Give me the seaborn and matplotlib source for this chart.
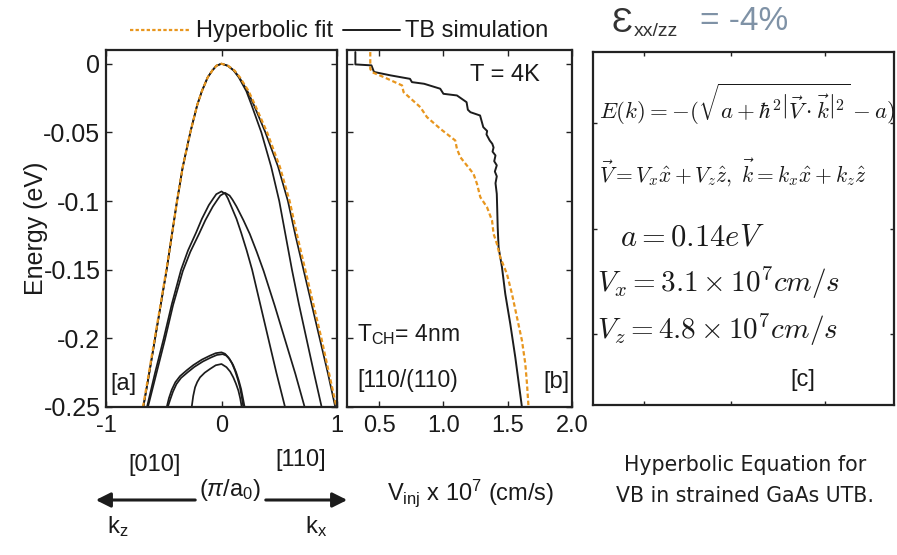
import numpy as np
import pandas as pd
import matplotlib
matplotlib.use("Agg")
import matplotlib.pyplot as plt
from matplotlib.lines import Line2D
import seaborn as sns

# ---------------- data ----------------
# panel a : band structure, k in (pi/a0), E in eV
E_b1 = [0, -0.0015, -0.005, -0.01, -0.02, -0.03, -0.05, -0.075, -0.1, -0.125, -0.15, -0.175, -0.2, -0.225, -0.25]
k_b1_left = [0, -0.045, -0.08, -0.12, -0.17, -0.21, -0.27, -0.335, -0.385, -0.43, -0.475, -0.525, -0.575, -0.625, -0.677]
k_b1_right = [0, 0.055, 0.11, 0.155, 0.225, 0.28, 0.38, 0.49, 0.575, 0.64, 0.71, 0.78, 0.85, 0.92, 0.985]
k_b1b_right = [0, 0.055, 0.105, 0.15, 0.215, 0.26, 0.345, 0.43, 0.50, 0.555, 0.61, 0.67, 0.735, 0.80, 0.867]
k_fit_left = [0, -0.045, -0.08, -0.12, -0.17, -0.21, -0.27, -0.335, -0.385, -0.43, -0.477, -0.527, -0.578, -0.628, -0.68]
k_fit_right = [0, 0.057, 0.113, 0.16, 0.235, 0.29, 0.395, 0.505, 0.59, 0.655, 0.725, 0.795, 0.865, 0.93, 0.995]

E_b2 = [-0.093, -0.095, -0.098, -0.103, -0.113, -0.123, -0.136, -0.15, -0.175, -0.2, -0.225, -0.25]
k_b2_left = [0, -0.045, -0.07, -0.11, -0.17, -0.22, -0.29, -0.35, -0.43, -0.50, -0.575, -0.645]
k_b2_right = [0, 0.035, 0.055, 0.08, 0.13, 0.17, 0.218, 0.265, 0.335, 0.405, 0.475, 0.55]
E_b2b = [-0.094, -0.096, -0.099, -0.104, -0.114, -0.124, -0.137, -0.151, -0.176, -0.201, -0.226, -0.251]
k_b2b_left = [0.03, -0.01, -0.035, -0.075, -0.14, -0.195, -0.27, -0.335, -0.42, -0.49, -0.565, -0.64]
k_b2b_right = [0.03, 0.07, 0.095, 0.13, 0.19, 0.245, 0.305, 0.365, 0.46, 0.55, 0.64, 0.723]

k_b3_left = [0, -0.05, -0.1, -0.17, -0.244, -0.3, -0.359, -0.40, -0.431, -0.455, -0.474]
E_b3_left = [-0.2102, -0.2108, -0.2126, -0.2155, -0.2195, -0.2232, -0.2275, -0.232, -0.2375, -0.2435, -0.25]
k_b3_right = [0, 0.03, 0.059, 0.09, 0.117, 0.14, 0.16, 0.176, 0.189]
E_b3_right = [-0.2102, -0.2112, -0.2138, -0.218, -0.2235, -0.2295, -0.2357, -0.243, -0.25]
k_b3b_left = [0.01, -0.04, -0.09, -0.16, -0.235, -0.29, -0.35, -0.39, -0.42, -0.445, -0.465]
E_b3b_left = [-0.2115, -0.2121, -0.2139, -0.2168, -0.2208, -0.2245, -0.2288, -0.2333, -0.2388, -0.2448, -0.25]
k_b3b_right = [0.01, 0.04, 0.07, 0.10, 0.127, 0.15, 0.17, 0.187, 0.20]
E_b3b_right = [-0.2115, -0.2125, -0.2151, -0.2193, -0.2248, -0.2308, -0.237, -0.2443, -0.25]

k_b4_left = [0, -0.05, -0.0996, -0.145, -0.186, -0.21, -0.229, -0.245, -0.258]
E_b4_left = [-0.2187, -0.2196, -0.2223, -0.225, -0.2284, -0.2318, -0.2357, -0.242, -0.25]
k_b4_right = [0, 0.043, 0.075, 0.102, 0.125, 0.146, 0.162, 0.175]
E_b4_right = [-0.2187, -0.221, -0.2242, -0.2284, -0.233, -0.238, -0.2437, -0.25]

# panel b : injection velocity (x 1e7 cm/s) versus energy (eV)
vinj_tb = [0.315, 0.315, 0.44, 0.46, 0.59, 0.74, 0.755, 0.85, 0.975, 1.00, 1.105, 1.18, 1.19, 1.21,
           1.285, 1.31, 1.34, 1.335, 1.36, 1.38, 1.39, 1.382, 1.405, 1.395, 1.415, 1.40, 1.415, 1.405,
           1.415, 1.418, 1.422, 1.429, 1.455, 1.481, 1.520, 1.559, 1.611]
E_tb = [0.0085, -0.0005, -0.0012, -0.0060, -0.0085, -0.0110, -0.0134, -0.0146, -0.0182, -0.0219, -0.0231, -0.0280, -0.0335, -0.0353,
        -0.0377, -0.0462, -0.0490, -0.0515, -0.0559, -0.0583, -0.0610, -0.0640, -0.0668, -0.0710, -0.0740, -0.0785, -0.0820, -0.0870,
        -0.0948, -0.1045, -0.1190, -0.1337, -0.1480, -0.1676, -0.1895, -0.2138, -0.2503]
vinj_fit = [0.431, 0.431, 0.444, 0.535, 0.678, 0.690, 0.820, 0.872, 0.976, 1.092, 1.105, 1.131, 1.234, 1.261,
            1.287, 1.339, 1.378, 1.390, 1.416, 1.442, 1.494, 1.533, 1.572, 1.611, 1.637, 1.650, 1.662]
E_fit = [0.0085, -0.0037, -0.0061, -0.0097, -0.0158, -0.0207, -0.0316, -0.0389, -0.0474, -0.0559, -0.0620, -0.0680, -0.0802, -0.0875,
         -0.0972, -0.1045, -0.1142, -0.1239, -0.1312, -0.1410, -0.1531, -0.1676, -0.1847, -0.2017, -0.2187, -0.2332, -0.2503]

yticks = [0, -0.05, -0.1, -0.15, -0.2, -0.25]
ytick_labels = ["0", "-0.05", "-0.1", "-0.15", "-0.2", "-0.25"]
xticks_a = [-1, 0, 1]
xtick_labels_a = ["-1", "0", "1"]
xticks_b = [0.5, 1.0, 1.5, 2.0]
xtick_labels_b = ["0.5", "1.0", "1.5", "2.0"]

# ---------------- style ----------------
sns.set_theme(style="white")
plt.rcParams["font.family"] = ["Liberation Sans", "DejaVu Sans"]
plt.rcParams["mathtext.fontset"] = "custom"
plt.rcParams["mathtext.rm"] = "Liberation Sans"
plt.rcParams["mathtext.it"] = "Liberation Sans:italic"
plt.rcParams["mathtext.bf"] = "Liberation Sans:bold"
plt.rcParams["mathtext.sf"] = "Liberation Sans"

BLACK = "#1c1c1c"
ORANGE = "#E8961E"
TXT = "#1a1a1a"

W, H = 897, 555
fig = plt.figure(figsize=(W / 100, H / 100), dpi=100)
fig.patch.set_facecolor("white")


def fx(px):
    return px / W


def fy(py):
    return 1 - py / H


def box(l, r, t, b):
    return [fx(l), fy(b), fx(r) - fx(l), fy(t) - fy(b)]


ax_a = fig.add_axes(box(106, 337, 50, 407))
ax_b = fig.add_axes(box(347, 572, 50, 407))
ax_c = fig.add_axes(box(593, 894, 52, 405))


def curve(kl, El, kr, Er):
    return list(kl[::-1]) + list(kr[1:]), list(El[::-1]) + list(Er[1:])


def draw(ax, x, y, **kw):
    df = pd.DataFrame({"x": x, "y": y})
    sns.lineplot(data=df, x="x", y="y", sort=False, estimator=None, ax=ax, **kw)


lw = 1.25
# band 1 (two sub-bands)
x, y = curve(k_b1_left, E_b1, k_b1_right, E_b1)
draw(ax_a, x, y, color=BLACK, linewidth=lw)
x, y = curve(k_b1_left, E_b1, k_b1b_right, E_b1)
draw(ax_a, x, y, color=BLACK, linewidth=lw)
# band 2
x, y = curve(k_b2_left, E_b2, k_b2_right, E_b2)
draw(ax_a, x, y, color=BLACK, linewidth=lw)
x, y = curve(k_b2b_left, E_b2b, k_b2b_right, E_b2b)
draw(ax_a, x, y, color=BLACK, linewidth=lw)
# band 3 / 4
x, y = curve(k_b3_left, E_b3_left, k_b3_right, E_b3_right)
draw(ax_a, x, y, color=BLACK, linewidth=lw)
x, y = curve(k_b3b_left, E_b3b_left, k_b3b_right, E_b3b_right)
draw(ax_a, x, y, color=BLACK, linewidth=lw)
x, y = curve(k_b4_left, E_b4_left, k_b4_right, E_b4_right)
draw(ax_a, x, y, color=BLACK, linewidth=lw)
# hyperbolic fit
x, y = curve(k_fit_left, E_b1, k_fit_right, E_b1)
draw(ax_a, x, y, color=ORANGE, linewidth=1.6, linestyle=(0, (2.0, 1.2)))

# panel b
draw(ax_b, vinj_tb, E_tb, color=BLACK, linewidth=1.4)
draw(ax_b, vinj_fit, E_fit, color=ORANGE, linewidth=1.6, linestyle=(0, (2.0, 1.2)))

for ax in (ax_a, ax_b, ax_c):
    for s in ax.spines.values():
        s.set_visible(True)
        s.set_color("#222222")
        s.set_linewidth(1.6)
    ax.set_xlabel("")
    ax.set_ylabel("")
    ax.tick_params(direction="in", length=4, width=1.0, color="#222222",
                   top=True, right=True, bottom=True, left=True,
                   labelsize=17, labelcolor=TXT)

ax_a.set_xlim(-1, 1)
ax_a.set_ylim(-0.25, 0.01)
ax_a.set_xticks(xticks_a, xtick_labels_a)
ax_a.set_yticks(yticks, ytick_labels)
ax_a.tick_params(axis="x", pad=6)
ax_a.tick_params(axis="y", pad=4, labelsize=18)

ax_b.set_xlim(0.25, 2.0)
ax_b.set_ylim(-0.25, 0.01)
ax_b.set_xticks(xticks_b, xtick_labels_b)
ax_b.set_yticks(yticks)
ax_b.tick_params(axis="y", labelleft=False)
ax_b.tick_params(axis="x", pad=6)

ax_c.set_xlim(0, 1)
ax_c.set_ylim(0, 1)
ax_c.set_xticks([0.17, 0.46, 0.77])
ax_c.set_yticks([0.2, 0.5, 0.8])
ax_c.tick_params(labelleft=False, labelbottom=False, length=3)

# ---------------- legend (top) ----------------
fig.add_artist(Line2D([fx(130), fx(190)], [fy(30), fy(30)], color=ORANGE, lw=1.6,
                      linestyle=(0, (1.5, 1.0)), transform=fig.transFigure))
fig.text(fx(196), fy(31), "Hyperbolic fit", fontsize=17, color=TXT, va="center", ha="left")
fig.add_artist(Line2D([fx(343), fx(400)], [fy(30), fy(30)], color=BLACK, lw=1.4,
                      transform=fig.transFigure))
fig.text(fx(405), fy(31), "TB simulation", fontsize=17, color=TXT, va="center", ha="left")

# strain label
fig.text(fx(611), fy(22), "Ɛ", fontsize=25, color="#333333", va="center", ha="left",
         family=["Liberation Sans", "DejaVu Sans"])
fig.text(fx(634), fy(32), "xx/zz", fontsize=14, color="#333333", va="center", ha="left")
fig.text(fx(700), fy(22), "= -4%", fontsize=24, color="#7f92a6", va="center", ha="left")

# ---------------- y label ----------------
fig.text(fx(36), fy(228), "Energy (eV)", rotation=90, fontsize=18, color=TXT,
         va="center", ha="center")

# ---------------- in-panel text ----------------
fig.text(fx(470), fy(75), "T = 4K", fontsize=17, color=TXT, va="center", ha="left")
fig.text(fx(357), fy(335), r"T$_{\rm CH}$= 4nm", fontsize=16.5, color=TXT, va="center", ha="left")
fig.text(fx(357), fy(380), "[110/(110)", fontsize=16.5, color=TXT, va="center", ha="left")
fig.text(fx(543), fy(382), "[b]", fontsize=17, color=TXT, va="center", ha="left")
fig.text(fx(110), fy(384), "[a]", fontsize=17, color=TXT, va="center", ha="left")
fig.text(fx(790), fy(380), "[c]", fontsize=17, color=TXT, va="center", ha="left")

# panel c equations
fig.text(fx(599), fy(104), r"$E(k)=-(\sqrt{a+\hbar^2\left|\vec{V}\cdot\vec{k}\right|^2}-a)$",
         fontsize=16.5, color=TXT, va="center", ha="left", math_fontfamily="cm")
fig.text(fx(599), fy(172), r"$\vec{V}=V_x\hat{x}+V_z\hat{z},\ \vec{k}=k_x\hat{x}+k_z\hat{z}$",
         fontsize=15.5, color=TXT, va="center", ha="left", math_fontfamily="cm")
fig.text(fx(620), fy(237), r"$a=0.14eV$", fontsize=22, color=TXT, va="center", ha="left",
         math_fontfamily="cm")
fig.text(fx(597), fy(283), r"$V_x=3.1\times10^7cm/s$", fontsize=21, color=TXT, va="center",
         ha="left", math_fontfamily="cm")
fig.text(fx(597), fy(330), r"$V_z=4.8\times10^7cm/s$", fontsize=21, color=TXT, va="center",
         ha="left", math_fontfamily="cm")

# ---------------- bottom annotations ----------------
fig.text(fx(128), fy(465), "[010]", fontsize=17, color=TXT, va="center", ha="left")
fig.text(fx(275), fy(460), "[110]", fontsize=17, color=TXT, va="center", ha="left")
fig.text(fx(199), fy(490), r"($\pi$/a$_{\rm 0}$)", fontsize=17, color=TXT, va="center", ha="left")
fig.add_artist(matplotlib.patches.FancyArrowPatch((fx(198), fy(500)), (fx(93), fy(500)),
               transform=fig.transFigure, arrowstyle="-|>", mutation_scale=22,
               color=BLACK, lw=2.2))
fig.add_artist(matplotlib.patches.FancyArrowPatch((fx(263), fy(500)), (fx(350), fy(500)),
               transform=fig.transFigure, arrowstyle="-|>", mutation_scale=22,
               color=BLACK, lw=2.2))
fig.text(fx(107), fy(527), r"k$_{\rm z}$", fontsize=17, color=TXT, va="center", ha="left")
fig.text(fx(305), fy(527), r"k$_{\rm x}$", fontsize=17, color=TXT, va="center", ha="left")
fig.text(fx(387), fy(493), r"V$_{\rm inj}$ x 10$^{\rm 7}$ (cm/s)", fontsize=17, color=TXT,
         va="center", ha="left")
fig.text(fx(745), fy(465), "Hyperbolic Equation for", fontsize=14.8, color="#1e1e1e",
         va="center", ha="center", family="DejaVu Sans")
fig.text(fx(745), fy(496), "VB in strained GaAs UTB.", fontsize=14.8, color="#1e1e1e",
         va="center", ha="center", family="DejaVu Sans")

fig.savefig("out.png", dpi=100, facecolor="white")
